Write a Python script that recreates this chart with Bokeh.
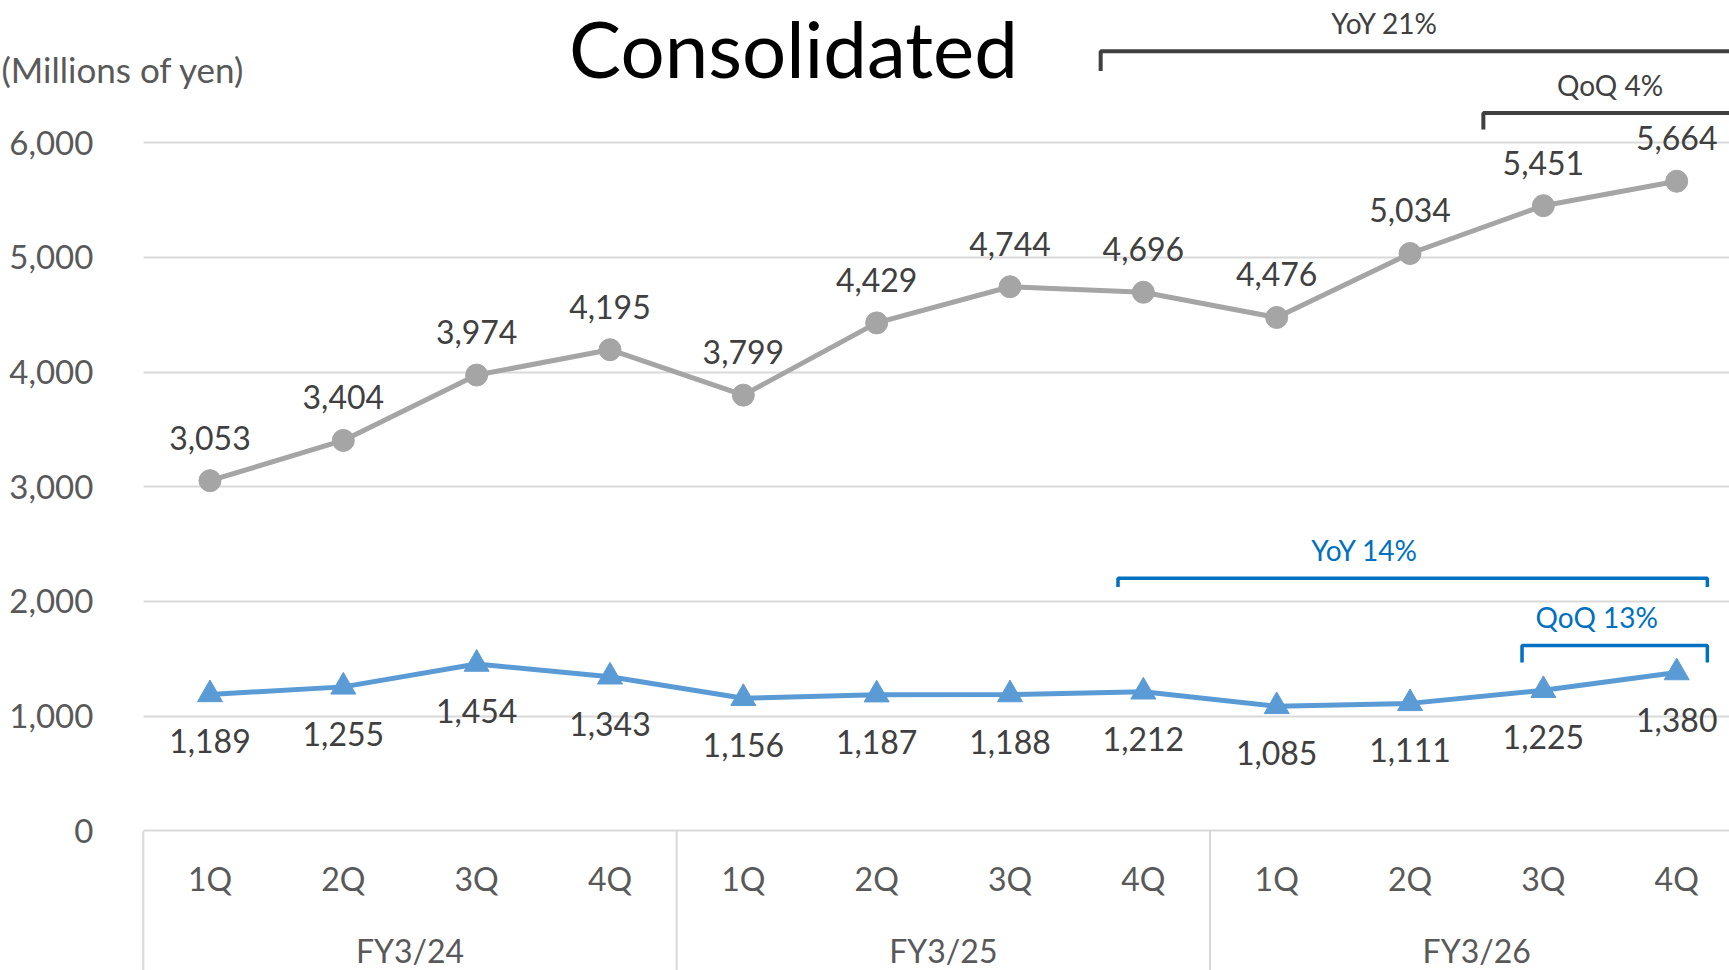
import numpy as np
from bokeh.plotting import figure
from bokeh.models import Range1d, FixedTicker, NumeralTickFormatter, ColumnDataSource, Label
from bokeh.core.properties import value
from bokeh.embed import file_html
from bokeh.resources import INLINE

# ---------------- data ----------------
fiscal_years = ["FY3/24", "FY3/25", "FY3/26"]
quarters = ["1Q", "2Q", "3Q", "4Q"]
sales = [3053, 3404, 3974, 4195, 3799, 4429, 4744, 4696, 4476, 5034, 5451, 5664]
profit = [1189, 1255, 1454, 1343, 1156, 1187, 1188, 1212, 1085, 1111, 1225, 1380]
y_ticks = [0, 1000, 2000, 3000, 4000, 5000, 6000]
title_text = "Consolidated"
unit_text = "(Millions of yen)"

# ---------------- derived ----------------
n_q = len(quarters)
idx = list(range(len(sales)))
q_labels = quarters * len(fiscal_years)
group_centers = [g * n_q + (n_q - 1) / 2 for g in range(len(fiscal_years))]
separators = [g * n_q - 0.5 for g in range(len(fiscal_years))]

def pct(a, b):
    return f"{round((a / b - 1) * 100):.0f}%"

yoy_s = "YoY " + pct(sales[-1], sales[-1 - n_q])
qoq_s = "QoQ " + pct(sales[-1], sales[-2])
yoy_p = "YoY " + pct(profit[-1], profit[-1 - n_q])
qoq_p = "QoQ " + pct(profit[-1], profit[-2])

FONT = "Lato"
GRAY = "#A5A5A5"
BLUE = "#5B9BD5"
DARK = "#404040"
AXIS_TXT = "#595959"
GRID = "#D9D9D9"
BR_BLUE = "#0070C0"

W, H = 1729, 970
Y_BOTTOM, Y_TOP = -1218.2, 7240.1
X_START, X_END = -1.571, 11.396

p = figure(width=W, height=H, output_backend="svg", toolbar_location=None,
           x_range=Range1d(X_START, X_END), y_range=Range1d(Y_BOTTOM, Y_TOP),
           x_axis_location=None, min_border_left=0, min_border_right=0,
           min_border_top=0, min_border_bottom=0)
p.outline_line_color = None
p.background_fill_color = "white"
p.border_fill_color = "white"
p.xgrid.visible = False

yax = p.yaxis[0]
yax.fixed_location = separators[0]
yax.ticker = FixedTicker(ticks=y_ticks)
yax.formatter = NumeralTickFormatter(format="0,0")
yax.axis_line_color = None
yax.major_tick_line_color = None
yax.minor_tick_line_color = None
yax.major_label_standoff = 44
yax.major_label_text_font = FONT
yax.major_label_text_font_size = "33px"
yax.major_label_text_color = AXIS_TXT

grid_ok = True
try:
    p.ygrid.cross_bounds = (separators[0], X_END + 1)
except Exception:
    grid_ok = False
if grid_ok:
    p.ygrid.ticker = FixedTicker(ticks=y_ticks)
    p.ygrid.grid_line_color = GRID
    p.ygrid.grid_line_width = 2
else:
    p.ygrid.visible = False
    p.segment(x0=[separators[0]] * len(y_ticks), y0=y_ticks, x1=[X_END + 1] * len(y_ticks),
              y1=y_ticks, line_color=GRID, line_width=2)

# category separators below the baseline
p.segment(x0=separators, y0=[0] * len(separators), x1=separators,
          y1=[Y_BOTTOM] * len(separators), line_color=GRID, line_width=2)

# category labels
p.text(x=idx, y=[0] * len(idx), text=q_labels, text_font=value(FONT),
       text_font_size="32px", text_color=AXIS_TXT, text_align="center",
       text_baseline="middle", y_offset=48)
p.text(x=group_centers, y=[0] * len(group_centers), text=fiscal_years, text_font=value(FONT),
       text_font_size="32px", text_color=AXIS_TXT, text_align="center",
       text_baseline="middle", y_offset=120)

src = ColumnDataSource(dict(x=idx, sales=sales, profit=profit,
                            sales_lbl=[f"{v:,}" for v in sales],
                            profit_lbl=[f"{v:,}" for v in profit]))

p.line("x", "sales", source=src, line_color=GRAY, line_width=5)
p.scatter("x", "sales", source=src, marker="circle", size=22, fill_color=GRAY, line_color=GRAY)
p.line("x", "profit", source=src, line_color=BLUE, line_width=5)
p.scatter("x", "profit", source=src, marker="triangle", size=25, fill_color=BLUE, line_color=BLUE)

p.text("x", "sales", text="sales_lbl", source=src, text_font=value(FONT), text_font_size="32px",
       text_color=DARK, text_align="center", text_baseline="middle", y_offset=-43)
p.text("x", "profit", text="profit_lbl", source=src, text_font=value(FONT), text_font_size="32px",
       text_color=DARK, text_align="center", text_baseline="middle", y_offset=47)

# growth brackets: (x_start, x_end, level, tick_end, color, text, text_x, width)
last = idx[-1]
brackets = [
    (last - n_q - 0.32, last + 0.6, 6798, 6625, DARK, yoy_s, 8.81, 4),
    (last - 1 - 0.45, last + 0.6, 6259, 6115, DARK, qoq_s, 10.50, 4),
    (last - n_q - 0.19, last + 0.23, 2202, 2125, BR_BLUE, yoy_p, 8.66, 3.5),
    (last - 1 - 0.16, last + 0.23, 1616, 1468, BR_BLUE, qoq_p, 10.40, 3.5),
]
p.multi_line(xs=[[b[0], b[0], b[1], b[1]] for b in brackets],
             ys=[[b[3], b[2], b[2], b[3]] for b in brackets],
             line_color=[b[4] for b in brackets], line_width=[b[7] for b in brackets])
p.text(x=[b[6] for b in brackets], y=[b[2] for b in brackets], text=[b[5] for b in brackets],
       text_color=[b[4] for b in brackets], text_font=value(FONT), text_font_size="28px",
       text_align="center", text_baseline="middle", y_offset=-28)

p.add_layout(Label(x=793, y=H - 47, x_units="screen", y_units="screen", text=title_text,
                   text_font=FONT, text_font_size="78px", text_color="black",
                   text_align="center", text_baseline="middle"))
p.add_layout(Label(x=1, y=H - 68, x_units="screen", y_units="screen", text=unit_text,
                   text_font=FONT, text_font_size="35px", text_color=AXIS_TXT,
                   text_align="left", text_baseline="middle"))

open("out.html", "w").write(file_html(p, INLINE))
